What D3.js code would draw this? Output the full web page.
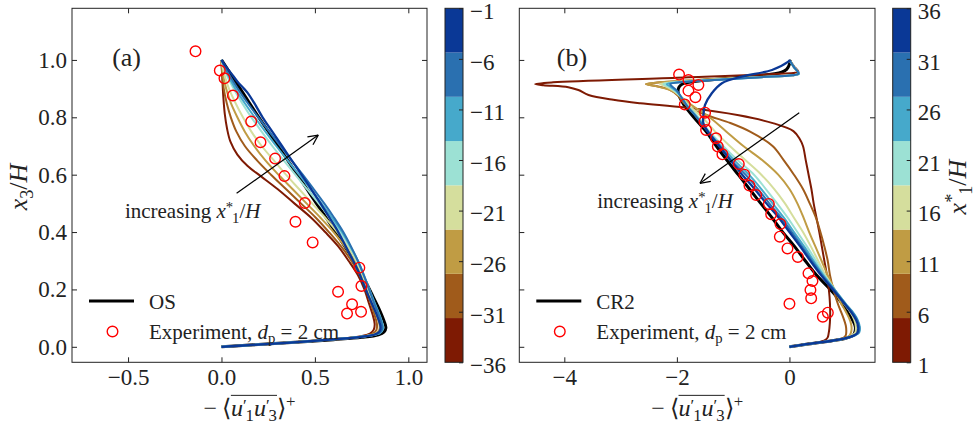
<!DOCTYPE html>
<html>
<head>
<meta charset="utf-8">
<script src="https://cdn.jsdelivr.net/npm/d3@7"></script>
<style>
  html, body { margin: 0; padding: 0; background: #ffffff; }
  svg { display: block; font-family: "Liberation Serif", "Times New Roman", serif; }
  svg text { white-space: pre; fill: #222; }
</style>
</head>
<body>
<svg id="chart" width="975" height="430"></svg>
<script>
// ---------------- data ----------------
const yTicks = [0, 0.2, 0.4, 0.6, 0.8, 1.0];
const yTickLabels = ["0.0", "0.2", "0.4", "0.6", "0.8", "1.0"];
const xTicksA = [-0.5, 0, 0.5, 1.0];
const xTickLabelsA = ["−0.5", "0.0", "0.5", "1.0"];
const xTicksB = [-4, -2, 0];
const xTickLabelsB = ["−4", "−2", "0"];

// colour bar: x1*/H, eight discrete bands
const cbTicks = [1, 6, 11, 16, 21, 26, 31, 36];
const cbLabelsA = ["−36", "−31", "−26", "−21", "−16", "−11", "−6", "−1"];
const cbLabelsB = ["1", "6", "11", "16", "21", "26", "31", "36"];
const cbBounds = [1, 5.375, 9.75, 14.125, 18.5, 22.875, 27.25, 31.625, 36];
const bandColors = ["#7e1a03", "#a05b1b", "#c09c44", "#d5de9d", "#9ce1d4", "#46a9cb", "#2a70b0", "#0a3896"];

// (a) profiles, -<u1'u3'>+ vs x3/H, one per streamwise station (low -> high x1*/H)
const profA1 = [[0,0],[0.1,0.004],[0.33,0.013],[0.6,0.026],[0.74,0.036],[0.795,0.046],[0.815,0.06],[0.82,0.08],[0.81,0.11],[0.79,0.15],[0.765,0.2],[0.73,0.25],[0.68,0.3],[0.625,0.35],[0.555,0.4],[0.48,0.45],[0.39,0.5],[0.3,0.55],[0.21,0.595],[0.14,0.63],[0.085,0.67],[0.048,0.715],[0.03,0.76],[0.018,0.81],[0.01,0.87],[0.004,0.94],[0,1]];
const profA2 = [[0,0],[0.1,0.004],[0.33,0.013],[0.6,0.026],[0.75,0.036],[0.81,0.046],[0.83,0.06],[0.832,0.08],[0.82,0.11],[0.8,0.15],[0.775,0.2],[0.74,0.25],[0.695,0.3],[0.64,0.35],[0.575,0.4],[0.505,0.45],[0.425,0.5],[0.345,0.55],[0.265,0.6],[0.19,0.65],[0.125,0.7],[0.08,0.75],[0.05,0.8],[0.028,0.85],[0.012,0.9],[0.004,0.95],[0,1]];
const profA3 = [[0,0],[0.1,0.004],[0.33,0.013],[0.6,0.026],[0.76,0.036],[0.825,0.046],[0.845,0.06],[0.845,0.08],[0.83,0.11],[0.805,0.15],[0.78,0.2],[0.75,0.25],[0.71,0.3],[0.66,0.35],[0.6,0.4],[0.53,0.45],[0.455,0.5],[0.38,0.55],[0.305,0.6],[0.235,0.65],[0.175,0.7],[0.125,0.75],[0.085,0.8],[0.05,0.85],[0.025,0.9],[0.008,0.95],[0,1]];
const profA4 = [[0,0],[0.1,0.004],[0.33,0.013],[0.6,0.026],[0.77,0.037],[0.835,0.047],[0.855,0.06],[0.855,0.08],[0.84,0.11],[0.815,0.15],[0.785,0.2],[0.755,0.25],[0.72,0.3],[0.675,0.35],[0.62,0.4],[0.555,0.45],[0.485,0.5],[0.415,0.55],[0.345,0.6],[0.28,0.65],[0.215,0.7],[0.16,0.75],[0.115,0.8],[0.075,0.85],[0.04,0.9],[0.015,0.95],[0,1]];
const profA5 = [[0,0],[0.1,0.004],[0.33,0.013],[0.6,0.026],[0.78,0.038],[0.845,0.048],[0.862,0.062],[0.86,0.08],[0.845,0.11],[0.82,0.15],[0.79,0.2],[0.76,0.25],[0.727,0.3],[0.685,0.35],[0.635,0.4],[0.58,0.45],[0.52,0.5],[0.458,0.55],[0.395,0.6],[0.333,0.65],[0.272,0.7],[0.215,0.75],[0.16,0.8],[0.11,0.85],[0.065,0.9],[0.027,0.95],[0,1]];
const profA6 = [[0,0],[0.1,0.004],[0.33,0.013],[0.6,0.026],[0.78,0.038],[0.848,0.048],[0.865,0.062],[0.862,0.08],[0.847,0.11],[0.822,0.15],[0.792,0.2],[0.762,0.25],[0.73,0.3],[0.69,0.35],[0.645,0.4],[0.592,0.45],[0.535,0.5],[0.476,0.55],[0.415,0.6],[0.354,0.65],[0.293,0.7],[0.235,0.75],[0.178,0.8],[0.124,0.85],[0.074,0.9],[0.033,0.95],[0,1]];
const profA7 = [[0,0],[0.1,0.004],[0.33,0.013],[0.6,0.026],[0.78,0.038],[0.845,0.048],[0.86,0.062],[0.858,0.08],[0.843,0.11],[0.818,0.15],[0.79,0.2],[0.762,0.25],[0.73,0.3],[0.693,0.35],[0.652,0.4],[0.603,0.45],[0.55,0.5],[0.493,0.55],[0.435,0.6],[0.375,0.65],[0.315,0.7],[0.256,0.75],[0.197,0.8],[0.14,0.85],[0.087,0.9],[0.04,0.95],[0,1]];
const profA8 = [[0,0],[0.15,0.006],[0.35,0.014],[0.6,0.026],[0.75,0.035],[0.82,0.043],[0.845,0.053],[0.852,0.066],[0.838,0.1],[0.812,0.14],[0.785,0.18],[0.76,0.22],[0.735,0.26],[0.705,0.3],[0.665,0.35],[0.625,0.4],[0.578,0.45],[0.53,0.5],[0.48,0.55],[0.428,0.6],[0.376,0.65],[0.324,0.7],[0.272,0.75],[0.22,0.8],[0.175,0.85],[0.14,0.885],[0.12,0.9],[0.085,0.925],[0.05,0.955],[0.02,0.98],[0,1]];
const osA = [[0,0],[0.15,0.006],[0.35,0.014],[0.6,0.025],[0.75,0.033],[0.84,0.042],[0.87,0.052],[0.88,0.066],[0.87,0.09],[0.845,0.13],[0.815,0.17],[0.785,0.21],[0.75,0.255],[0.71,0.3],[0.66,0.35],[0.61,0.4],[0.56,0.45],[0.508,0.5],[0.457,0.55],[0.406,0.6],[0.355,0.65],[0.303,0.7],[0.252,0.75],[0.2,0.8],[0.15,0.85],[0.1,0.9],[0.05,0.95],[0,1]];
const expA = [[-0.139,1.030],[-0.009,0.963],[0.016,0.936],[0.061,0.876],[0.159,0.785],[0.209,0.713],[0.287,0.656],[0.337,0.595],[0.446,0.501],[0.396,0.436],[0.488,0.364],[0.738,0.276],[0.749,0.212],[0.624,0.192],[0.699,0.148],[0.672,0.116],[0.747,0.122]];

// (b) profiles
const profB1 = [[0,0],[0.3,0.009],[0.55,0.017],[0.64,0.024],[0.68,0.033],[0.695,0.045],[0.71,0.065],[0.722,0.1],[0.72,0.15],[0.70,0.2],[0.665,0.25],[0.62,0.3],[0.575,0.35],[0.53,0.4],[0.48,0.45],[0.43,0.5],[0.39,0.55],[0.34,0.6],[0.29,0.65],[0.24,0.7],[0.18,0.725],[0.07,0.752],[-0.28,0.779],[-0.9,0.807],[-1.85,0.834],[-2.65,0.849],[-3.13,0.861],[-3.57,0.878],[-3.75,0.895],[-3.93,0.905],[-4.37,0.912],[-4.52,0.916],[-4.2,0.922],[-2.0,0.938],[0.1,0.955],[0.16,0.958],[0.08,0.978],[0,1.0]];
const profB2 = [[0,0],[0.3,0.009],[0.78,0.022],[0.95,0.03],[1.0,0.04],[1.01,0.055],[1.0,0.075],[0.96,0.1],[0.9,0.13],[0.86,0.15],[0.78,0.2],[0.72,0.25],[0.68,0.3],[0.62,0.35],[0.55,0.4],[0.47,0.45],[0.36,0.5],[0.24,0.55],[0.08,0.6],[-0.1,0.65],[-0.3,0.7],[-0.7,0.75],[-1.05,0.78],[-1.4,0.803],[-1.7,0.825],[-1.88,0.85],[-1.98,0.875],[-2.15,0.898],[-2.4,0.91],[-2.55,0.916],[-2.35,0.921],[-1.5,0.932],[-0.6,0.94],[0.05,0.947],[0.16,0.952],[0.08,0.975],[0,1.0]];
const profB3 = [[0,0],[0.3,0.009],[0.78,0.022],[0.98,0.03],[1.07,0.04],[1.1,0.055],[1.1,0.075],[1.06,0.1],[0.98,0.13],[0.92,0.15],[0.8,0.2],[0.68,0.25],[0.57,0.3],[0.46,0.35],[0.35,0.4],[0.25,0.45],[0.14,0.5],[0.0,0.55],[-0.2,0.6],[-0.48,0.65],[-0.82,0.7],[-1.12,0.75],[-1.42,0.8],[-1.72,0.84],[-1.92,0.87],[-2.1,0.893],[-2.4,0.91],[-2.55,0.916],[-2.3,0.922],[-1.5,0.932],[-0.6,0.94],[0.05,0.947],[0.16,0.952],[0.08,0.975],[0,1.0]];
const profB4 = [[0,0],[0.3,0.009],[0.78,0.022],[1.0,0.03],[1.11,0.04],[1.17,0.05],[1.18,0.07],[1.15,0.095],[1.07,0.125],[0.97,0.15],[0.80,0.2],[0.64,0.25],[0.51,0.3],[0.38,0.35],[0.24,0.4],[0.08,0.45],[-0.08,0.5],[-0.27,0.55],[-0.5,0.6],[-0.78,0.65],[-1.06,0.7],[-1.32,0.75],[-1.55,0.8],[-1.78,0.84],[-1.92,0.87],[-2.06,0.893],[-2.22,0.91],[-2.3,0.916],[-2.05,0.923],[-1.3,0.932],[-0.5,0.94],[0.05,0.947],[0.16,0.952],[0.08,0.975],[0,1.0]];
const profB5 = [[0,0],[0.3,0.009],[0.78,0.022],[1.0,0.03],[1.15,0.04],[1.22,0.05],[1.23,0.07],[1.2,0.095],[1.1,0.125],[1.0,0.15],[0.80,0.2],[0.62,0.25],[0.47,0.3],[0.31,0.35],[0.14,0.4],[-0.03,0.45],[-0.22,0.5],[-0.42,0.55],[-0.63,0.6],[-0.92,0.65],[-1.18,0.7],[-1.42,0.75],[-1.62,0.8],[-1.8,0.84],[-1.92,0.87],[-2.04,0.893],[-2.18,0.91],[-2.24,0.916],[-2.0,0.923],[-1.3,0.932],[-0.5,0.94],[0.05,0.947],[0.17,0.952],[0.08,0.975],[0,1.0]];
const profB6 = [[0,0],[0.3,0.009],[0.78,0.022],[1.0,0.03],[1.17,0.04],[1.24,0.05],[1.25,0.07],[1.21,0.095],[1.11,0.125],[1.0,0.15],[0.80,0.2],[0.60,0.25],[0.43,0.3],[0.26,0.35],[0.08,0.4],[-0.10,0.45],[-0.30,0.5],[-0.50,0.55],[-0.72,0.6],[-0.98,0.65],[-1.22,0.7],[-1.44,0.75],[-1.64,0.8],[-1.82,0.84],[-1.92,0.87],[-2.02,0.893],[-2.14,0.91],[-2.18,0.916],[-1.95,0.923],[-1.2,0.932],[-0.5,0.94],[0.05,0.947],[0.17,0.952],[0.08,0.975],[0,1.0]];
const profB7 = [[0,0],[0.3,0.009],[0.78,0.022],[1.0,0.03],[1.16,0.04],[1.23,0.05],[1.24,0.07],[1.2,0.095],[1.1,0.125],[0.99,0.15],[0.79,0.2],[0.58,0.25],[0.40,0.3],[0.22,0.35],[0.04,0.4],[-0.15,0.45],[-0.36,0.5],[-0.56,0.55],[-0.78,0.6],[-1.03,0.65],[-1.24,0.7],[-1.45,0.75],[-1.65,0.8],[-1.82,0.84],[-1.92,0.87],[-2.0,0.893],[-2.1,0.91],[-2.12,0.916],[-1.9,0.923],[-1.2,0.932],[-0.5,0.94],[0.05,0.947],[0.16,0.952],[0.08,0.975],[0,1.0]];
const profB8 = [[0,0],[0.3,0.009],[0.78,0.022],[1.0,0.03],[1.15,0.04],[1.21,0.05],[1.22,0.07],[1.18,0.095],[1.08,0.125],[0.98,0.15],[0.77,0.2],[0.56,0.25],[0.37,0.3],[0.19,0.35],[0.0,0.4],[-0.19,0.45],[-0.41,0.5],[-0.62,0.55],[-0.84,0.6],[-1.05,0.65],[-1.25,0.7],[-1.45,0.75],[-1.53,0.78],[-1.53,0.805],[-1.5,0.843],[-1.38,0.884],[-1.2,0.919],[-0.85,0.942],[-0.31,0.965],[-0.02,0.994],[0.01,1.0]];
const cr2B = [[0,0],[0.3,0.009],[0.78,0.022],[1.0,0.03],[1.12,0.038],[1.16,0.05],[1.17,0.07],[1.13,0.09],[1.02,0.125],[0.9,0.16],[0.7,0.205],[0.48,0.25],[0.28,0.3],[0.09,0.35],[-0.12,0.4],[-0.31,0.45],[-0.51,0.5],[-0.71,0.55],[-0.91,0.6],[-1.11,0.65],[-1.30,0.7],[-1.48,0.75],[-1.70,0.8],[-1.88,0.845],[-1.95,0.87],[-1.98,0.89],[-1.96,0.906],[-1.88,0.918],[-1.5,0.929],[-0.61,0.944],[-0.14,0.957],[-0.05,0.967],[0.0,0.985],[0.01,1.0]];
const expB = [[-1.961,0.949],[-1.795,0.930],[-1.618,0.913],[-1.795,0.893],[-1.671,0.870],[-1.860,0.845],[-1.499,0.816],[-1.511,0.785],[-1.481,0.756],[-1.303,0.727],[-1.273,0.698],[-1.191,0.671],[-0.900,0.637],[-0.800,0.600],[-0.711,0.562],[-0.592,0.529],[-0.366,0.498],[-0.325,0.462],[-0.160,0.428],[-0.171,0.384],[-0.035,0.343],[0.149,0.313],[0.338,0.256],[0.409,0.229],[0.373,0.198],[0.386,0.169],[0.000,0.150],[0.682,0.119],[0.593,0.105]];

const profilesA = [profA1, profA2, profA3, profA4, profA5, profA6, profA7, profA8];
const profilesB = [profB1, profB2, profB3, profB4, profB5, profB6, profB7, profB8];

// ---------------- layout ----------------
const svg = d3.select("#chart");
const plotTop = 8.3, plotBottom = 362.3;
const FS = 23;        // tick labels
const TS = 21;        // annotation text
const MS = 24;        // x-axis label math
const LS = 26;        // rotated labels

// one <text> holding positioned <tspan>s (italic, sub/superscript, stacked, overlined)
function mathText(parent, runs, size) {
  const g = parent.append("g");
  const probe = g.append("text");
  let x = 0, stack = null;
  let oMin = Infinity, oMax = -Infinity;
  const items = [];
  for (const r of runs) {
    const small = r.sub || r.sup;
    const fs = small ? size * 0.7 : size;
    let dy = r.sub ? size * 0.22 : (r.sup ? -size * 0.36 : 0);
    if (r.dy !== undefined) dy = r.dy * size;
    probe.attr("font-size", fs).attr("font-style", r.it ? "italic" : "normal").text(r.t);
    const w = probe.node().getComputedTextLength() + (r.kern || 0);
    const x0 = x;
    items.push({ t: r.t, x: x0, y: dy, fs, it: r.it });
    if (r.stack) {
      stack = { x0, w };
    } else if (stack) {
      x = stack.x0 + Math.max(stack.w, w);
      stack = null;
    } else {
      x += w;
    }
    if (r.over) { oMin = Math.min(oMin, x0); oMax = Math.max(oMax, x0 + w); }
  }
  probe.remove();
  const text = g.append("text");
  items.forEach(it => {
    const s = text.append("tspan").attr("x", it.x).attr("y", it.y)
      .attr("font-size", it.fs).text(it.t);
    if (it.it) s.attr("font-style", "italic");
  });
  if (oMax > oMin) {
    g.append("line").attr("x1", oMin).attr("x2", oMax)
      .attr("y1", -size * 0.86).attr("y2", -size * 0.86)
      .attr("stroke", "#222").attr("stroke-width", 1);
  }
  return { g, width: x };
}

const xLabelRuns = [
  { t: "−" }, { t: "\u2009⟨" },
  { t: "u", it: 1, over: 1 }, { t: "′", sup: 1, over: 1, dy: -0.22, kern: -1 }, { t: "1", sub: 1, over: 1 },
  { t: "u", it: 1, over: 1 }, { t: "′", sup: 1, over: 1, dy: -0.22, kern: -1 }, { t: "3", sub: 1, over: 1 },
  { t: "⟩" }, { t: "+", sup: 1 }
];
const incRuns = [
  { t: "increasing " }, { t: "x", it: 1 }, { t: "*", sup: 1, dy: -0.3, kern: -1 }, { t: "1", sub: 1, dy: 0.24 },
  { t: "/" }, { t: "H", it: 1 }
];
const legendExpRuns = [
  { t: "Experiment, " }, { t: "d", it: 1 }, { t: "p", sub: 1 }, { t: " = 2 cm" }
];

function drawPanel(cfg) {
  const x = d3.scaleLinear().domain(cfg.xDomain).range([cfg.left, cfg.right]);
  const y = d3.scaleLinear().domain([-0.054, 1.18]).range([plotBottom, plotTop]);
  const root = svg.append("g");

  const clipId = "clip-" + cfg.id;
  root.append("clipPath").attr("id", clipId).append("rect")
    .attr("x", cfg.left).attr("y", plotTop)
    .attr("width", cfg.right - cfg.left).attr("height", plotBottom - plotTop);

  const line = d3.line().x(d => x(d[0])).y(d => y(d[1]))
    .curve(d3.curveCatmullRom.alpha(0.5));

  const plot = root.append("g").attr("clip-path", `url(#${clipId})`);
  // reference simulation underneath, then the streamwise stations
  plot.append("path").attr("d", line(cfg.ref)).attr("fill", "none")
    .attr("stroke", "#000").attr("stroke-width", 3).attr("stroke-linejoin", "round");
  cfg.profiles.forEach((p, i) => {
    plot.append("path").attr("d", line(p)).attr("fill", "none")
      .attr("stroke", bandColors[i]).attr("stroke-width", i === 7 ? 2.3 : 2)
      .attr("stroke-linejoin", "round");
  });
  plot.selectAll("circle.exp").data(cfg.exp).join("circle").attr("class", "exp")
    .attr("cx", d => x(d[0])).attr("cy", d => y(d[1])).attr("r", 5.3)
    .attr("fill", "none").attr("stroke", "#ff0000").attr("stroke-width", 1.4);

  // axes: inward ticks on all four sides
  const styleAxis = g => {
    g.select(".domain").remove();
    g.selectAll(".tick line").attr("stroke", "#222").attr("stroke-width", 1);
    g.selectAll(".tick text").attr("fill", "#222").attr("font-size", FS)
      .attr("font-family", '"Liberation Serif", serif');
  };
  root.append("g").attr("transform", `translate(0,${plotBottom})`)
    .call(d3.axisBottom(x).tickValues(cfg.xTicks).tickSize(-5).tickPadding(6)
      .tickFormat((d, i) => cfg.xTickLabels[i]))
    .call(styleAxis);
  root.append("g").attr("transform", `translate(0,${plotTop})`)
    .call(d3.axisTop(x).tickValues(cfg.xTicks).tickSize(-5).tickFormat(""))
    .call(styleAxis);
  root.append("g").attr("transform", `translate(${cfg.left},0)`)
    .call(d3.axisLeft(y).tickValues(yTicks).tickSize(-5).tickPadding(5)
      .tickFormat((d, i) => cfg.yLabels ? yTickLabels[i] : ""))
    .call(styleAxis);
  root.append("g").attr("transform", `translate(${cfg.right},0)`)
    .call(d3.axisRight(y).tickValues(yTicks).tickSize(-5).tickFormat(""))
    .call(styleAxis);
  root.append("rect").attr("x", cfg.left).attr("y", plotTop)
    .attr("width", cfg.right - cfg.left).attr("height", plotBottom - plotTop)
    .attr("fill", "none").attr("stroke", "#222").attr("stroke-width", 1);

  // panel tag
  root.append("text").attr("x", x(cfg.tagAt[0])).attr("y", y(cfg.tagAt[1]))
    .attr("font-size", 26).text(cfg.tag);

  // arrow with open head
  const [ax0, ay0] = [x(cfg.arrow[0][0]), y(cfg.arrow[0][1])];
  const [ax1, ay1] = [x(cfg.arrow[1][0]), y(cfg.arrow[1][1])];
  root.append("line").attr("x1", ax0).attr("y1", ay0).attr("x2", ax1).attr("y2", ay1)
    .attr("stroke", "#000").attr("stroke-width", 1.2);
  const ang = Math.atan2(ay1 - ay0, ax1 - ax0);
  [-0.45, 0.45].forEach(da => {
    root.append("line").attr("x1", ax1).attr("y1", ay1)
      .attr("x2", ax1 - 11 * Math.cos(ang + da)).attr("y2", ay1 - 11 * Math.sin(ang + da))
      .attr("stroke", "#000").attr("stroke-width", 1.2);
  });
  const inc = mathText(root, incRuns, TS);
  inc.g.attr("transform", `translate(${x(cfg.incAt[0])},${y(cfg.incAt[1])})`);

  // legend
  const lg = root.append("g");
  lg.append("line").attr("x1", cfg.left + 17).attr("x2", cfg.left + 62)
    .attr("y1", 301).attr("y2", 301).attr("stroke", "#000").attr("stroke-width", 3);
  lg.append("text").attr("x", cfg.left + 77).attr("y", 308.5).attr("font-size", TS).text(cfg.refName);
  lg.append("circle").attr("cx", cfg.left + 40.5).attr("cy", 331.5).attr("r", 5.3)
    .attr("fill", "none").attr("stroke", "#ff0000").attr("stroke-width", 1.4);
  const le = mathText(lg, legendExpRuns, TS);
  le.g.attr("transform", `translate(${cfg.left + 77},338.5)`);

  // x-axis label
  const xl = mathText(root, xLabelRuns, MS);
  xl.g.attr("transform", `translate(${(cfg.left + cfg.right) / 2 - xl.width / 2},416)`);

  return { x, y };
}

drawPanel({
  id: "a", xDomain: [-0.8, 1.1], left: 72, right: 427,
  xTicks: xTicksA, xTickLabels: xTickLabelsA, yLabels: true,
  profiles: profilesA, ref: osA, exp: expA, refName: "OS",
  tag: "(a)", tagAt: [-0.585, 0.978],
  arrow: [[0.081, 0.535], [0.518, 0.738]], incAt: [-0.517, 0.449]
});
drawPanel({
  id: "b", xDomain: [-4.8, 1.52], left: 519.3, right: 875,
  xTicks: xTicksB, xTickLabels: xTickLabelsB, yLabels: false,
  profiles: profilesB, ref: cr2B, exp: expB, refName: "CR2",
  tag: "(b)", tagAt: [-4.135, 0.978],
  arrow: [[0.174, 0.816], [-1.59, 0.570]], incAt: [-3.415, 0.484]
});

// y-axis label of panel (a)
const yl = mathText(svg, [{ t: "x", it: 1 }, { t: "3", sub: 1 }, { t: "/" }, { t: "H", it: 1 }], LS);
yl.g.attr("transform", `translate(27,187) rotate(-90) translate(${-yl.width / 2},0)`);

// colour bars
function drawColorbar(left, labels, withTitle) {
  const w = 18;
  const s = d3.scaleLinear().domain([1, 36]).range([plotBottom, plotTop]);
  const g = svg.append("g");
  g.selectAll("rect.band").data(bandColors).join("rect").attr("class", "band")
    .attr("x", left).attr("width", w)
    .attr("y", (c, i) => s(cbBounds[i + 1]))
    .attr("height", (c, i) => s(cbBounds[i]) - s(cbBounds[i + 1]))
    .attr("fill", c => c);
  g.append("g").attr("transform", `translate(${left + w},0)`)
    .call(d3.axisRight(s).tickValues(cbTicks).tickSize(-4).tickPadding(7)
      .tickFormat((d, i) => labels[i]))
    .call(a => {
      a.select(".domain").remove();
      a.selectAll(".tick line").attr("stroke", "#222");
      a.selectAll(".tick text").attr("fill", "#222").attr("font-size", FS)
        .attr("dy", "0.45em")
        .attr("font-family", '"Liberation Serif", serif');
    });
  g.append("rect").attr("x", left).attr("y", plotTop).attr("width", w)
    .attr("height", plotBottom - plotTop).attr("fill", "none")
    .attr("stroke", "#222").attr("stroke-width", 1);
  if (withTitle) {
    const t = mathText(svg, [{ t: "x", it: 1 }, { t: "*", sup: 1, dy: -0.3, kern: -1 }, { t: "1", sub: 1, dy: 0.24 },
      { t: "/" }, { t: "H", it: 1 }], LS);
    t.g.attr("transform", `translate(966,187) rotate(-90) translate(${-t.width / 2},0)`);
  }
}
drawColorbar(445, cbLabelsA, false);
drawColorbar(892.7, cbLabelsB, true);
</script>
</body>
</html>
